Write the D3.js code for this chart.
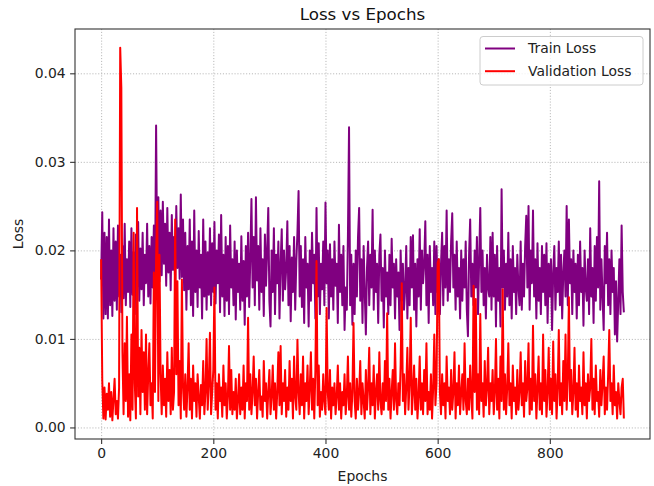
<!DOCTYPE html>
<html>
<head>
<meta charset="utf-8">
<script src="https://cdn.jsdelivr.net/npm/d3@7"></script>
<style>
  body { margin: 0; background: #fff; }
  svg { font-family: "DejaVu Sans", sans-serif; }
</style>
</head>
<body>
<div id="chart"></div>
<script>
// losses, one value every 2 epochs (epoch 0 .. 932)
const epochStep = 2;

const trainLoss = [
  0.0167, 0.0243, 0.0123, 0.0220, 0.0128, 0.0215, 0.0123, 0.0235, 0.0138, 0.0200, 0.0126, 0.0225, 0.0143, 0.0210, 0.0133, 0.0228, 0.0148, 0.0195, 0.0130, 0.0205, 0.0146, 0.0230, 0.0138, 0.0190, 0.0153,
  0.0210, 0.0136, 0.0225, 0.0150, 0.0198, 0.0128, 0.0218, 0.0158, 0.0232, 0.0143, 0.0202, 0.0156, 0.0220, 0.0138, 0.0195, 0.0163, 0.0230, 0.0148, 0.0205, 0.0140, 0.0215, 0.0158, 0.0228, 0.0153, 0.0341,
  0.0180, 0.0260, 0.0165, 0.0245, 0.0172, 0.0255, 0.0185, 0.0230, 0.0160, 0.0248, 0.0175, 0.0220, 0.0155, 0.0240, 0.0178, 0.0215, 0.0162, 0.0250, 0.0180, 0.0225, 0.0168, 0.0263, 0.0170, 0.0235, 0.0155,
  0.0220, 0.0133, 0.0205, 0.0156, 0.0235, 0.0138, 0.0210, 0.0126, 0.0245, 0.0153, 0.0200, 0.0136, 0.0222, 0.0158, 0.0195, 0.0123, 0.0235, 0.0148, 0.0210, 0.0133, 0.0198, 0.0150, 0.0225, 0.0138, 0.0208,
  0.0153, 0.0232, 0.0140, 0.0200, 0.0163, 0.0218, 0.0130, 0.0240, 0.0148, 0.0195, 0.0126, 0.0215, 0.0143, 0.0205, 0.0128, 0.0228, 0.0158, 0.0190, 0.0138, 0.0210, 0.0122, 0.0200, 0.0153, 0.0185, 0.0133,
  0.0216, 0.0143, 0.0188, 0.0116, 0.0205, 0.0148, 0.0220, 0.0136, 0.0192, 0.0258, 0.0158, 0.0215, 0.0138, 0.0260, 0.0166, 0.0205, 0.0133, 0.0225, 0.0153, 0.0190, 0.0126, 0.0218, 0.0160, 0.0200, 0.0248,
  0.0143, 0.0114, 0.0200, 0.0153, 0.0225, 0.0128, 0.0195, 0.0163, 0.0210, 0.0123, 0.0185, 0.0224, 0.0143, 0.0200, 0.0156, 0.0180, 0.0233, 0.0138, 0.0205, 0.0120, 0.0192, 0.0153, 0.0215, 0.0133, 0.0188,
  0.0220, 0.0267, 0.0148, 0.0205, 0.0136, 0.0190, 0.0118, 0.0215, 0.0158, 0.0185, 0.0114, 0.0200, 0.0143, 0.0220, 0.0163, 0.0195, 0.0123, 0.0248, 0.0148, 0.0208, 0.0128, 0.0185, 0.0156, 0.0210, 0.0138,
  0.0254, 0.0163, 0.0200, 0.0123, 0.0207, 0.0148, 0.0190, 0.0133, 0.0210, 0.0160, 0.0185, 0.0118, 0.0229, 0.0153, 0.0195, 0.0138, 0.0205, 0.0110, 0.0158, 0.0133, 0.0215, 0.0339, 0.0138, 0.0195, 0.0116,
  0.0185, 0.0128, 0.0200, 0.0148, 0.0215, 0.0248, 0.0143, 0.0190, 0.0118, 0.0205, 0.0153, 0.0105, 0.0180, 0.0210, 0.0138, 0.0195, 0.0158, 0.0246, 0.0133, 0.0200, 0.0153, 0.0185, 0.0118, 0.0195, 0.0218,
  0.0143, 0.0180, 0.0113, 0.0200, 0.0148, 0.0175, 0.0128, 0.0195, 0.0138, 0.0213, 0.0158, 0.0185, 0.0123, 0.0190, 0.0148, 0.0175, 0.0110, 0.0200, 0.0143, 0.0185, 0.0133, 0.0156, 0.0205, 0.0123, 0.0180,
  0.0138, 0.0215, 0.0158, 0.0217, 0.0133, 0.0185, 0.0114, 0.0190, 0.0148, 0.0224, 0.0133, 0.0200, 0.0163, 0.0185, 0.0233, 0.0138, 0.0195, 0.0118, 0.0205, 0.0153, 0.0180, 0.0138, 0.0210, 0.0128, 0.0205,
  0.0153, 0.0190, 0.0128, 0.0185, 0.0220, 0.0138, 0.0205, 0.0158, 0.0245, 0.0143, 0.0190, 0.0153, 0.0210, 0.0242, 0.0158, 0.0195, 0.0133, 0.0210, 0.0148, 0.0180, 0.0123, 0.0200, 0.0143, 0.0190, 0.0158,
  0.0210, 0.0133, 0.0103, 0.0195, 0.0235, 0.0148, 0.0185, 0.0138, 0.0200, 0.0158, 0.0215, 0.0128, 0.0190, 0.0248, 0.0153, 0.0200, 0.0138, 0.0180, 0.0123, 0.0195, 0.0158, 0.0148, 0.0215, 0.0133, 0.0220,
  0.0148, 0.0195, 0.0114, 0.0205, 0.0143, 0.0180, 0.0114, 0.0269, 0.0158, 0.0200, 0.0133, 0.0185, 0.0148, 0.0220, 0.0138, 0.0190, 0.0123, 0.0205, 0.0153, 0.0180, 0.0128, 0.0195, 0.0158, 0.0138, 0.0210,
  0.0133, 0.0185, 0.0148, 0.0205, 0.0239, 0.0158, 0.0250, 0.0133, 0.0200, 0.0163, 0.0245, 0.0148, 0.0190, 0.0123, 0.0208, 0.0143, 0.0180, 0.0128, 0.0205, 0.0153, 0.0195, 0.0138, 0.0208, 0.0118, 0.0185,
  0.0148, 0.0190, 0.0110, 0.0175, 0.0205, 0.0133, 0.0180, 0.0153, 0.0210, 0.0138, 0.0195, 0.0123, 0.0175, 0.0200, 0.0148, 0.0250, 0.0138, 0.0235, 0.0163, 0.0190, 0.0128, 0.0200, 0.0153, 0.0185, 0.0123,
  0.0195, 0.0138, 0.0210, 0.0153, 0.0180, 0.0115, 0.0200, 0.0158, 0.0143, 0.0190, 0.0128, 0.0225, 0.0148, 0.0180, 0.0118, 0.0205, 0.0143, 0.0215, 0.0158, 0.0278, 0.0133, 0.0190, 0.0148, 0.0110, 0.0205,
  0.0163, 0.0220, 0.0138, 0.0190, 0.0128, 0.0200, 0.0153, 0.0180, 0.0105, 0.0165, 0.0097, 0.0143, 0.0190, 0.0128, 0.0228, 0.0153, 0.0130
];

const valLoss = [
  0.0190, 0.0054, 0.0010, 0.0045, 0.0009, 0.0038, 0.0020, 0.0050, 0.0012, 0.0040, 0.0008, 0.0032, 0.0055, 0.0015, 0.0030, 0.0010, 0.0045, 0.0429, 0.0384, 0.0085, 0.0015, 0.0095, 0.0030, 0.0125, 0.0012,
  0.0060, 0.0008, 0.0105, 0.0020, 0.0220, 0.0050, 0.0010, 0.0248, 0.0035, 0.0090, 0.0015, 0.0110, 0.0040, 0.0085, 0.0020, 0.0105, 0.0015, 0.0060, 0.0095, 0.0025, 0.0050, 0.0010, 0.0175, 0.0040, 0.0190,
  0.0255, 0.0030, 0.0195, 0.0060, 0.0015, 0.0070, 0.0025, 0.0055, 0.0012, 0.0085, 0.0030, 0.0065, 0.0015, 0.0090, 0.0020, 0.0040, 0.0235, 0.0060, 0.0165, 0.0025, 0.0075, 0.0010, 0.0167, 0.0045, 0.0020,
  0.0060, 0.0012, 0.0045, 0.0095, 0.0020, 0.0055, 0.0010, 0.0070, 0.0030, 0.0050, 0.0012, 0.0060, 0.0035, 0.0010, 0.0048, 0.0025, 0.0075, 0.0015, 0.0040, 0.0100, 0.0020, 0.0050, 0.0107, 0.0015, 0.0040,
  0.0065, 0.0158, 0.0020, 0.0050, 0.0010, 0.0060, 0.0030, 0.0045, 0.0012, 0.0070, 0.0025, 0.0050, 0.0010, 0.0035, 0.0092, 0.0020, 0.0065, 0.0015, 0.0040, 0.0020, 0.0055, 0.0010, 0.0030, 0.0060, 0.0015,
  0.0045, 0.0020, 0.0070, 0.0010, 0.0050, 0.0030, 0.0124, 0.0020, 0.0060, 0.0015, 0.0040, 0.0080, 0.0025, 0.0055, 0.0010, 0.0040, 0.0065, 0.0020, 0.0035, 0.0012, 0.0075, 0.0030, 0.0050, 0.0010, 0.0040,
  0.0065, 0.0015, 0.0035, 0.0070, 0.0020, 0.0050, 0.0010, 0.0040, 0.0085, 0.0025, 0.0092, 0.0015, 0.0050, 0.0030, 0.0065, 0.0012, 0.0045, 0.0020, 0.0075, 0.0030, 0.0055, 0.0010, 0.0080, 0.0035, 0.0020,
  0.0099, 0.0040, 0.0015, 0.0060, 0.0025, 0.0080, 0.0010, 0.0050, 0.0030, 0.0070, 0.0015, 0.0045, 0.0085, 0.0020, 0.0055, 0.0010, 0.0065, 0.0188, 0.0025, 0.0070, 0.0012, 0.0040, 0.0020, 0.0060, 0.0030,
  0.0015, 0.0135, 0.0040, 0.0020, 0.0065, 0.0010, 0.0045, 0.0025, 0.0050, 0.0015, 0.0035, 0.0070, 0.0020, 0.0050, 0.0010, 0.0040, 0.0025, 0.0060, 0.0015, 0.0035, 0.0080, 0.0020, 0.0050, 0.0012, 0.0040,
  0.0118, 0.0030, 0.0010, 0.0055, 0.0020, 0.0040, 0.0075, 0.0015, 0.0050, 0.0030, 0.0010, 0.0065, 0.0020, 0.0045, 0.0090, 0.0015, 0.0050, 0.0025, 0.0070, 0.0010, 0.0040, 0.0060, 0.0020, 0.0085, 0.0030,
  0.0015, 0.0050, 0.0020, 0.0075, 0.0030, 0.0129, 0.0020, 0.0055, 0.0010, 0.0040, 0.0065, 0.0020, 0.0095, 0.0030, 0.0015, 0.0050, 0.0025, 0.0070, 0.0163, 0.0030, 0.0060, 0.0015, 0.0045, 0.0090, 0.0020,
  0.0050, 0.0124, 0.0015, 0.0040, 0.0070, 0.0020, 0.0055, 0.0010, 0.0035, 0.0080, 0.0020, 0.0050, 0.0015, 0.0065, 0.0030, 0.0095, 0.0015, 0.0040, 0.0020, 0.0060, 0.0010, 0.0045, 0.0105, 0.0025, 0.0050,
  0.0186, 0.0190, 0.0040, 0.0015, 0.0060, 0.0025, 0.0050, 0.0010, 0.0080, 0.0030, 0.0045, 0.0015, 0.0065, 0.0020, 0.0040, 0.0085, 0.0010, 0.0050, 0.0025, 0.0070, 0.0015, 0.0040, 0.0060, 0.0020, 0.0095,
  0.0030, 0.0015, 0.0055, 0.0020, 0.0070, 0.0035, 0.0010, 0.0160, 0.0040, 0.0145, 0.0020, 0.0060, 0.0015, 0.0128, 0.0030, 0.0050, 0.0012, 0.0075, 0.0025, 0.0045, 0.0090, 0.0015, 0.0050, 0.0030, 0.0065,
  0.0015, 0.0040, 0.0100, 0.0020, 0.0055, 0.0010, 0.0080, 0.0030, 0.0156, 0.0020, 0.0060, 0.0015, 0.0045, 0.0095, 0.0025, 0.0050, 0.0010, 0.0070, 0.0030, 0.0045, 0.0015, 0.0065, 0.0020, 0.0040, 0.0085,
  0.0025, 0.0050, 0.0012, 0.0075, 0.0030, 0.0045, 0.0095, 0.0015, 0.0055, 0.0020, 0.0115, 0.0030, 0.0060, 0.0010, 0.0045, 0.0080, 0.0020, 0.0050, 0.0015, 0.0105, 0.0030, 0.0065, 0.0012, 0.0040, 0.0090,
  0.0020, 0.0055, 0.0015, 0.0097, 0.0030, 0.0060, 0.0010, 0.0045, 0.0110, 0.0025, 0.0050, 0.0015, 0.0075, 0.0030, 0.0105, 0.0020, 0.0055, 0.0147, 0.0030, 0.0065, 0.0015, 0.0040, 0.0090, 0.0020, 0.0050,
  0.0012, 0.0070, 0.0030, 0.0045, 0.0015, 0.0085, 0.0025, 0.0050, 0.0010, 0.0060, 0.0030, 0.0045, 0.0100, 0.0020, 0.0055, 0.0015, 0.0070, 0.0030, 0.0040, 0.0012, 0.0065, 0.0025, 0.0050, 0.0080, 0.0015,
  0.0045, 0.0020, 0.0060, 0.0110, 0.0030, 0.0050, 0.0015, 0.0070, 0.0025, 0.0040, 0.0010, 0.0050, 0.0030, 0.0015, 0.0045, 0.0055, 0.0010
];

const xTicks = [0, 200, 400, 600, 800];
const yTicks = [0.00, 0.01, 0.02, 0.03, 0.04];
const seriesNames = ["Train Loss", "Validation Loss"];
const seriesColors = ["#800080", "#ff0000"];

const width = 654, height = 486;
const margin = { top: 29, right: 4, bottom: 47, left: 75 };
const plot = {
  left: margin.left,
  right: width - margin.right,
  top: margin.top,
  bottom: height - margin.bottom
};

const epochs = trainLoss.map((_, i) => i * epochStep);
const series = [trainLoss, valLoss];

const svg = d3.select("#chart")
  .append("svg")
  .attr("width", width)
  .attr("height", height);

// matplotlib style 5% margins around the data
const [x0, x1] = d3.extent(epochs);
const [y0, y1] = d3.extent(trainLoss.concat(valLoss));
const padX = (x1 - x0) * 0.05, padY = (y1 - y0) * 0.05;

const xScale = d3.scaleLinear()
  .domain([x0 - padX, x1 + padX])
  .range([plot.left, plot.right]);

const yScale = d3.scaleLinear()
  .domain([y0 - padY, y1 + padY])
  .range([plot.bottom, plot.top]);

// grid
svg.append("g")
  .attr("transform", `translate(0, ${plot.bottom})`)
  .call(d3.axisBottom(xScale).tickValues(xTicks).tickFormat("").tickSize(-(plot.bottom - plot.top)))
  .call(g => g.select(".domain").remove())
  .selectAll("line")
  .attr("stroke", "#b0b0b0")
  .attr("stroke-width", 0.9)
  .attr("stroke-dasharray", "1.1,1.8");

svg.append("g")
  .attr("transform", `translate(${plot.left}, 0)`)
  .call(d3.axisLeft(yScale).tickValues(yTicks).tickFormat("").tickSize(-(plot.right - plot.left)))
  .call(g => g.select(".domain").remove())
  .selectAll("line")
  .attr("stroke", "#b0b0b0")
  .attr("stroke-width", 0.9)
  .attr("stroke-dasharray", "1.1,1.8");

// lines
const line = d3.line()
  .x((d, i) => xScale(epochs[i]))
  .y(d => yScale(d));

svg.append("g")
  .selectAll("path")
  .data(series)
  .join("path")
  .attr("d", line)
  .attr("fill", "none")
  .attr("stroke", (d, i) => seriesColors[i])
  .attr("stroke-width", 2)
  .attr("stroke-linejoin", "round");

// axes
const xAxis = svg.append("g")
  .attr("transform", `translate(0, ${plot.bottom})`)
  .call(d3.axisBottom(xScale).tickValues(xTicks).tickSize(4.9).tickPadding(4));

const yAxis = svg.append("g")
  .attr("transform", `translate(${plot.left}, 0)`)
  .call(d3.axisLeft(yScale).tickValues(yTicks).tickFormat(d3.format(".2f")).tickSize(4.9).tickPadding(4.5));

[xAxis, yAxis].forEach(g => {
  g.select(".domain").remove();
  g.selectAll("text").attr("font-size", 13.9).attr("fill", "#222").attr("font-family", "DejaVu Sans");
  g.selectAll("line").attr("stroke", "#333").attr("stroke-width", 1.1);
});

// frame
svg.append("rect")
  .attr("x", plot.left)
  .attr("y", plot.top)
  .attr("width", plot.right - plot.left)
  .attr("height", plot.bottom - plot.top)
  .attr("fill", "none")
  .attr("stroke", "#333")
  .attr("stroke-width", 1.1);

// labels
svg.append("text")
  .attr("x", (plot.left + plot.right) / 2)
  .attr("y", 20)
  .attr("text-anchor", "middle")
  .attr("font-size", 16.7)
  .attr("fill", "#111")
  .text("Loss vs Epochs");

svg.append("text")
  .attr("x", (plot.left + plot.right) / 2)
  .attr("y", 481)
  .attr("text-anchor", "middle")
  .attr("font-size", 13.9)
  .attr("fill", "#222")
  .text("Epochs");

svg.append("text")
  .attr("transform", `translate(23, ${(plot.top + plot.bottom) / 2}) rotate(-90)`)
  .attr("text-anchor", "middle")
  .attr("font-size", 13.9)
  .attr("fill", "#222")
  .text("Loss");

// legend
const legend = svg.append("g").attr("transform", `translate(${plot.right - 170}, ${plot.top + 7.5})`);

legend.append("rect")
  .attr("width", 163)
  .attr("height", 48.5)
  .attr("rx", 3)
  .attr("fill", "#fff")
  .attr("fill-opacity", 0.8)
  .attr("stroke", "#ccc")
  .attr("stroke-width", 1);

const items = legend.selectAll(".item")
  .data(seriesNames)
  .join("g")
  .attr("class", "item")
  .attr("transform", (d, i) => `translate(0, ${12 + i * 22.7})`);

items.append("line")
  .attr("x1", 5).attr("x2", 35)
  .attr("stroke", (d, i) => seriesColors[i])
  .attr("stroke-width", 2);

items.append("text")
  .attr("x", 48)
  .attr("dy", "0.35em")
  .attr("font-size", 13.9)
  .attr("fill", "#222")
  .text(d => d);
</script>
</body>
</html>
